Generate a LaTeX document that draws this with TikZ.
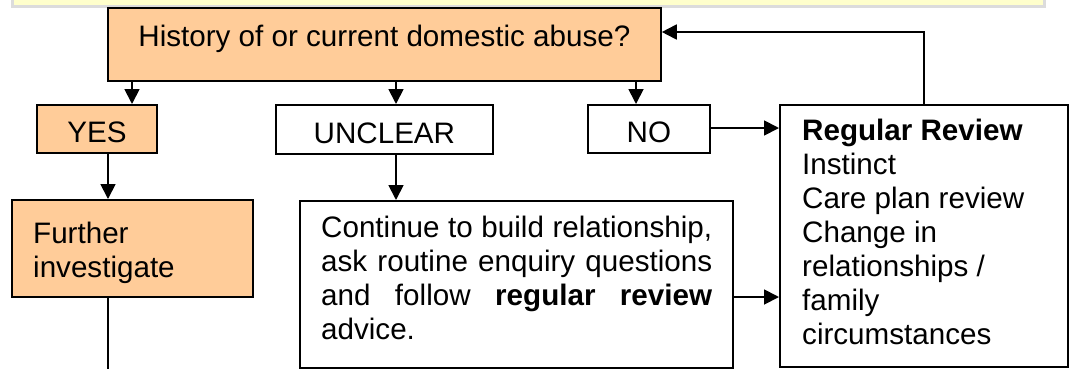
\documentclass[tikz,border=0pt]{standalone}
\usepackage{fontspec}
\setmainfont{Liberation Sans}
\usetikzlibrary{arrows.meta,calc}
\definecolor{peach}{HTML}{FFCC99}
\definecolor{bandfill}{HTML}{FFFFCC}
\definecolor{bandedge}{HTML}{DCDCDC}
\begin{document}
\begin{tikzpicture}[x=1pt,y=-1pt,
  every node/.append style={font=\fontsize{29.6}{34}\selectfont},
  box/.style={draw=black, line width=1.8pt, inner sep=0pt, anchor=north west},
  fbox/.style={box, fill=peach},
  arr/.style={line width=1.8pt, -{Triangle[length=15pt,width=15pt]}},
  conn/.style={line width=1.8pt},
  txt/.style={inner sep=0pt, anchor=base west}
]
\useasboundingbox (0,0) rectangle (1075,368);
% top band
\draw[bandedge, line width=2.5pt, fill=bandfill] (12.5,-10) rectangle (1044.3,6.5);

% boxes
\node[fbox, minimum width=553pt, minimum height=73pt, text height=21pt, text depth=16pt] (q) at (107,7) {History of or current domestic abuse?};
\node[fbox, minimum width=120pt, minimum height=48pt, text height=27.5pt, text depth=0pt] (yes) at (36,104) {YES};
\node[box, minimum width=217pt, minimum height=49pt, text height=27.5pt, text depth=0pt] (unc) at (275,104) {UNCLEAR};
\node[box, minimum width=122pt, minimum height=48pt, text height=27.5pt, text depth=0pt] (no) at (587,104) {NO};
\node[fbox, minimum width=241pt, minimum height=97pt] (fi) at (11,199) {};
\node[box, minimum width=433pt, minimum height=167pt] (cont) at (299,200) {};
\node[box, minimum width=288pt, minimum height=262pt] (rr) at (779,104) {};

% texts
\node[txt] (fitext) at (33,243) {\vtop{\baselineskip=34pt\lineskiplimit=-100pt
  \hbox{Further}\hbox{investigate}}};
\node[txt] (conttext) at (321,237.5) {\vtop{\baselineskip=34pt\lineskiplimit=-100pt
  \hbox to 391pt{Continue to build relationship,}
  \hbox to 391pt{ask routine enquiry questions}
  \hbox to 391pt{and follow \textbf{regular review}}
  \hbox{advice.}}};
\node[txt] (rrtext) at (802,140.5) {\vtop{\baselineskip=34pt\lineskiplimit=-100pt
  \hbox{\textbf{Regular Review}}\hbox{Instinct}\hbox{Care plan review}
  \hbox{Change in}\hbox{relationships /}\hbox{family}\hbox{circumstances}}};

% helper coordinates
\coordinate (cy) at (132,0);
\coordinate (cu) at (396,0);
\coordinate (cn) at (636,0);
\coordinate (cf) at (108,0);
\coordinate (cr) at (924,0);
\coordinate (bot) at (108,370);
\coordinate (ry) at (0,32);
\coordinate (rn) at (0,128);
\coordinate (rc) at (0,297);

% connectors
\draw[arr] (q.south -| cy) -- (yes.north -| cy);
\draw[arr] (q.south -| cu) -- (unc.north -| cu);
\draw[arr] (q.south -| cn) -- (no.north -| cn);
\draw[arr] (yes.south -| cf) -- (fi.north -| cf);
\draw[arr] (unc.south -| cu) -- (cont.north -| cu);
\draw[arr] (no.east |- rn) -- (rr.west |- rn);
\draw[arr] (cont.east |- rc) -- (rr.west |- rc);
\draw[arr] (rr.north -| cr) -- (cr |- ry) -- (q.east |- ry);
\draw[conn] (fi.south -| cf) -- (bot);
\end{tikzpicture}
\end{document}
